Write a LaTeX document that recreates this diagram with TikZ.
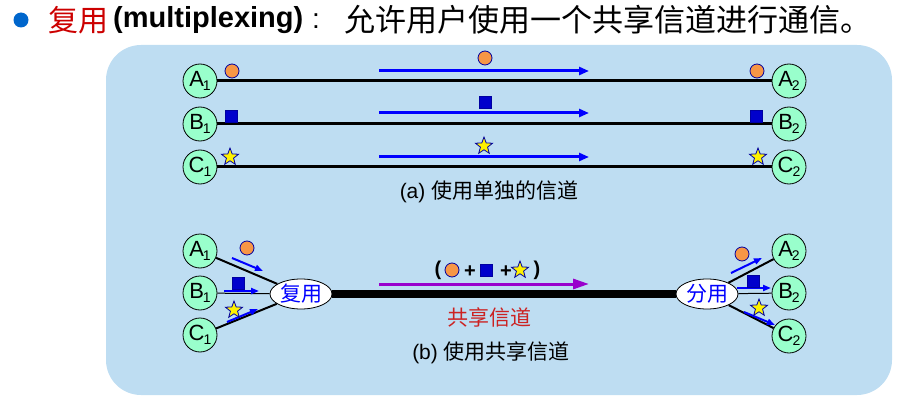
\documentclass[tikz,border=0pt]{standalone}
\usepackage{fontspec}
\setmainfont{Liberation Sans}
\newfontfamily\cjk{Noto Sans CJK SC}
\usetikzlibrary{shapes.geometric,arrows.meta}
\definecolor{bgblue}{RGB}{190,221,242}
\definecolor{mint}{RGB}{153,255,204}
\definecolor{dotorange}{RGB}{247,150,70}
\definecolor{sqblue}{RGB}{0,0,204}
\definecolor{starline}{RGB}{0,0,160}
\definecolor{flowblue}{RGB}{0,0,255}
\definecolor{flowpurple}{RGB}{153,0,204}
\definecolor{titlered}{RGB}{204,0,0}
\definecolor{chanred}{RGB}{204,34,34}
\definecolor{bulletblue}{RGB}{0,102,204}
\newcommand{\stlabel}[2]{#1\kern-1pt\raisebox{-4pt}{\fontsize{14}{14}\selectfont #2}}
\begin{document}
\begin{tikzpicture}[x=1pt,y=-1pt,
  station/.style={circle,draw,line width=0.8pt,fill=mint,minimum size=34pt,inner sep=0pt,font=\fontsize{22}{22}\selectfont},
  link/.style={line width=3pt},
  flow/.style={draw=flowblue,line width=3pt,-{Triangle[length=10pt,width=8pt]}},
  minflow/.style={draw=flowblue,line width=2pt,-{Triangle[length=8pt,width=6pt]}},
  symdot/.style={circle,draw=starline,line width=0.8pt,fill=dotorange,minimum size=14pt,inner sep=0pt},
  symsq/.style={rectangle,fill=sqblue,draw=starline,line width=0.5pt,minimum size=12pt,inner sep=0pt},
  symstar/.style={star,star points=5,star point ratio=2.4,draw=starline,line width=0.8pt,fill=yellow,minimum size=18pt,inner sep=0pt},
  caption/.style={font=\fontsize{21}{21}\selectfont,inner sep=0pt},
  muxbox/.style={ellipse,draw,line width=0.8pt,fill=white,minimum width=62pt,minimum height=30pt,inner sep=0pt,text=flowblue,font=\cjk\fontsize{21}{21}\selectfont},
  sym/.style={inner sep=0pt,font=\bfseries\fontsize{20}{20}\selectfont}
]
\useasboundingbox (0,0) rectangle (905,401);
% title
\node[circle,fill=bulletblue,minimum size=15pt,inner sep=0pt] (bullet) at (21,20) {};
\node[anchor=west,inner sep=0pt,font=\cjk\fontsize{30}{30}\selectfont,text=titlered] (t1) at (48,20) {复用};
\node[anchor=west,inner sep=0pt,font=\bfseries\fontsize{29}{29}\selectfont] (t2) at (113,20) {(multiplexing)};
\node[inner sep=0pt,font=\fontsize{28}{28}\selectfont] (t3) at (316,21) {:};
\node[anchor=west,inner sep=0pt,font=\cjk\fontsize{31}{31}\selectfont] (t4) at (344,20) {允许用户使用一个共享信道进行通信。};
% background panel
\fill[bgblue,rounded corners=35pt] (106,45) rectangle (892,395);
% (a) separate channels
\node[station] (A1) at (200,81) {\stlabel{A}{1}};
\node[station] (B1) at (200,124) {\stlabel{B}{1}};
\node[station] (C1) at (200,167) {\stlabel{C}{1}};
\node[station] (A2) at (789,81) {\stlabel{A}{2}};
\node[station] (B2) at (789,124) {\stlabel{B}{2}};
\node[station] (C2) at (789,167) {\stlabel{C}{2}};
\draw[link] (A1) -- (A2);
\draw[link] (B1) -- (B2);
\draw[link] (C1) -- (C2);
\node[symdot] (da1) at (232,71) {};
\node[symsq] (sa1) at (231,116) {};
\node[symstar] (xa1) at (230,157) {};
\node[symdot] (da2) at (757,71) {};
\node[symsq] (sa2) at (756,116) {};
\node[symstar] (xa2) at (758,157) {};
\node[symdot] (dam) at (485,58) {};
\node[symsq] (sam) at (485,102) {};
\node[symstar] (xam) at (484,146) {};
\coordinate (fa1) at (379,71); \coordinate (fa2) at (589,71);
\coordinate (fb1) at (379,113); \coordinate (fb2) at (589,113);
\coordinate (fc1) at (379,157); \coordinate (fc2) at (589,157);
\draw[flow] (fa1) -- (fa2);
\draw[flow] (fb1) -- (fb2);
\draw[flow] (fc1) -- (fc2);
\node[caption] (capa) at (489,192) {(a) {\cjk 使用单独的信道}};
% (b) shared channel
\node[station] (A1b) at (200,251) {\stlabel{A}{1}};
\node[station] (B1b) at (200,293) {\stlabel{B}{1}};
\node[station] (C1b) at (200,335) {\stlabel{C}{1}};
\node[station] (A2b) at (789,251) {\stlabel{A}{2}};
\node[station] (B2b) at (789,293) {\stlabel{B}{2}};
\node[station] (C2b) at (789,336) {\stlabel{C}{2}};
\node[muxbox] (mux) at (301,294) {复用};
\node[muxbox] (demux) at (707,294) {分用};
\draw[line width=2pt] (A1b) -- (mux);
\draw[line width=1pt] (B1b) -- (mux);
\draw[line width=2pt] (C1b) -- (mux);
\draw[line width=2pt] (demux) -- (A2b);
\draw[line width=1pt] (demux) -- (B2b);
\draw[line width=2pt] (demux) -- (C2b);
\draw[line width=8pt] (mux) -- (demux);
% left small flows
\coordinate (la1) at (232,258); \coordinate (la2) at (263,271);
\coordinate (lb1) at (224,291); \coordinate (lb2) at (259,291);
\coordinate (lc1) at (227,322); \coordinate (lc2) at (258,309);
\draw[minflow] (la1) -- (la2);
\draw[minflow] (lb1) -- (lb2);
\draw[minflow] (lc1) -- (lc2);
\node[symdot] (dbl) at (247,248) {};
\node[symsq] (sbl) at (238,283) {};
\node[symstar] (xbl) at (234,310) {};
% right small flows
\coordinate (ra1) at (731,273); \coordinate (ra2) at (762,258);
\coordinate (rb1) at (737,288); \coordinate (rb2) at (771,288);
\coordinate (rc1) at (744,312); \coordinate (rc2) at (775,325);
\draw[minflow] (ra1) -- (ra2);
\draw[minflow] (rb1) -- (rb2);
\draw[minflow] (rc1) -- (rc2);
\node[symdot] (dbr) at (742,254) {};
\node[symsq] (sbr) at (753,281) {};
\node[symstar] (xbr) at (759,308) {};
% shared flow
\coordinate (pf1) at (379,284); \coordinate (pf2) at (589,284);
\draw[draw=flowpurple,line width=3pt,-{Triangle[length=16pt,width=10pt]}] (pf1) -- (pf2);
\node[sym] (lp) at (438,270) {(};
\node[symdot] (dbm) at (452,270) {};
\node[sym] (pl1) at (470,272) {+};
\node[symsq] (sbm) at (486,270) {};
\node[sym] (pl2) at (506,272) {+};
\node[symstar] (xbm) at (520,270) {};
\node[sym] (rp) at (537,270) {)};
\node[inner sep=0pt,text=chanred,font=\cjk\fontsize{21}{21}\selectfont] (chan) at (489,317) {共享信道};
\node[caption] (capb) at (491,353) {(b) {\cjk 使用共享信道}};
\end{tikzpicture}
\end{document}
